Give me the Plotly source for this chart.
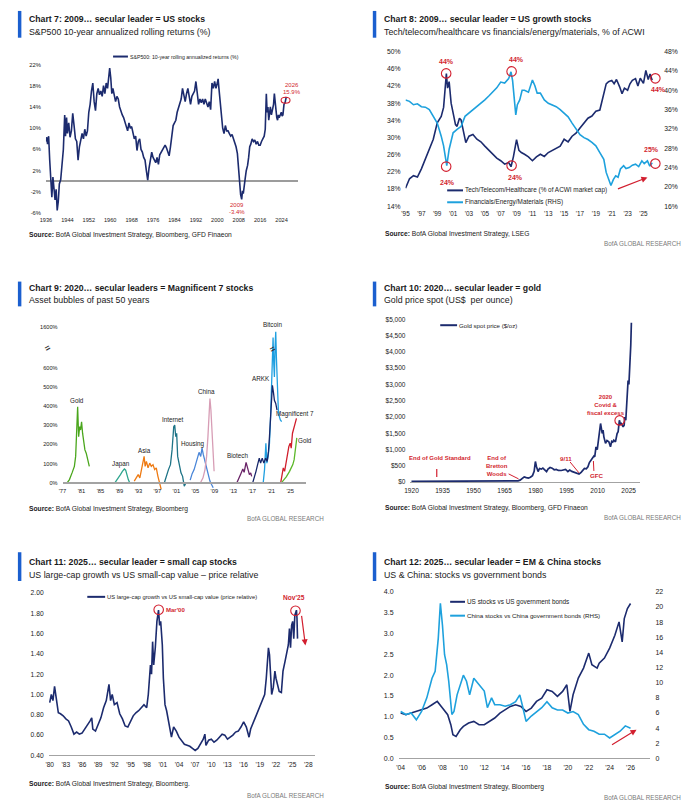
import plotly.graph_objects as go

W, H = 696, 812
NAVY = "#1c2b6e"
LIGHT = "#1ea1dd"
RED = "#d21f2f"
AXIS_GRAY = "#a3a3a3"
BAR = "#1b5fcf"
TXT = "#1a1a1a"
FONT = "Liberation Sans, Arial, sans-serif"


def fx(p):
    return p / W


def fy(p):
    return 1 - p / H


# ---------------- Chart 7: S&P500 10y rolling returns ----------------
sp_x = [1936.0, 1936.3, 1936.6, 1937.0, 1937.4, 1937.8, 1938.2, 1938.6, 1939.0, 1939.4,
        1939.8, 1940.2, 1940.6, 1941.0, 1941.5, 1942.0, 1942.5, 1943.0, 1943.3, 1943.7,
        1944.0, 1944.5, 1945.0, 1945.5, 1946.0, 1946.5, 1947.0, 1947.5, 1948.0, 1948.5,
        1949.0, 1949.5, 1950.0, 1950.5, 1951.0, 1951.5, 1952.0, 1952.5, 1953.0, 1953.5,
        1954.0, 1954.5, 1955.0, 1955.5, 1956.0, 1956.5, 1957.0, 1957.5, 1958.0, 1958.5,
        1959.0, 1959.4, 1959.8, 1960.2, 1960.6, 1961.0, 1961.5, 1962.0, 1962.5, 1963.0,
        1963.5, 1964.0, 1964.5, 1965.0, 1965.5, 1966.0, 1966.5, 1967.0, 1967.5, 1968.0,
        1968.5, 1969.0, 1969.5, 1970.0, 1970.5, 1971.0, 1971.5, 1972.0, 1972.5, 1973.0,
        1973.5, 1974.0, 1974.5, 1975.0, 1975.5, 1976.0, 1976.5, 1977.0, 1977.5, 1978.0,
        1978.5, 1979.0, 1979.5, 1980.0, 1980.5, 1981.0, 1981.5, 1982.0, 1982.5, 1983.0,
        1983.5, 1984.0, 1984.5, 1985.0, 1985.5, 1986.0, 1986.5, 1987.0, 1987.5, 1988.0,
        1988.5, 1989.0, 1989.5, 1990.0, 1990.5, 1991.0, 1991.5, 1992.0, 1992.5, 1993.0,
        1993.5, 1994.0, 1994.5, 1995.0, 1995.5, 1996.0, 1996.5, 1997.0, 1997.5, 1998.0,
        1998.5, 1999.0, 1999.5, 2000.0, 2000.3, 2000.6, 2001.0, 2001.5, 2002.0, 2002.5,
        2003.0, 2003.5, 2004.0, 2004.5, 2005.0, 2005.5, 2006.0, 2006.5, 2007.0, 2007.5,
        2007.8, 2008.1, 2008.4, 2008.7, 2009.1, 2009.4, 2009.7, 2010.0, 2010.4, 2010.8,
        2011.3, 2011.7, 2012.1, 2012.5, 2013.0, 2013.5, 2014.0, 2014.5, 2015.0, 2015.5,
        2016.0, 2016.5, 2017.0, 2017.5, 2017.9, 2018.1, 2018.3, 2018.6, 2018.9, 2019.2,
        2019.5, 2019.8, 2020.2, 2020.6, 2021.0, 2021.3, 2021.6, 2021.9, 2022.2, 2022.5,
        2022.8, 2023.1, 2023.5, 2023.9, 2024.2, 2024.5, 2024.9, 2025.3, 2025.75]
sp_v = [7.5, 8.3, 7.0, 8.5, 4.0, 0.5, -3.0, 0.8, -1.0, -3.5,
        -1.5, -5.5, -3.8, -0.5, 0.3, 2.8, 6.0, 12.5, 8.5, 12.0,
        9.0, 11.0, 8.3, 9.5, 12.8, 10.5, 8.0, 7.5, 4.0, 6.5,
        7.5, 9.0, 8.0, 9.8, 8.5, 9.5, 13.0, 14.5, 17.0, 18.5,
        15.0, 13.3, 16.5, 17.5, 16.3, 17.0, 16.0, 18.0, 16.5, 18.5,
        17.5, 20.0, 21.3, 19.5, 16.5, 17.5, 16.5, 15.0, 16.0, 15.5,
        14.0, 13.0, 12.5, 12.0, 11.0, 10.0, 9.5, 11.0, 10.0, 10.3,
        9.0, 8.0, 8.5, 5.8, 7.5, 8.0, 6.0, 5.5, 4.5, 4.0,
        2.0, 0.2, 2.5, 4.5, 5.5, 4.5, 3.8, 3.5, 4.5, 3.2,
        5.0, 5.5, 6.0, 6.5, 6.8, 6.3, 5.5, 4.8, 6.5, 9.0,
        10.5, 11.0, 11.5, 13.0, 14.0, 14.5, 15.5, 17.5, 16.0, 15.0,
        16.5, 17.5, 16.0, 14.5, 16.0, 16.5, 17.0, 18.8, 16.0, 14.5,
        15.5, 14.8, 15.5, 14.5, 15.5, 14.8, 14.0, 15.0, 13.5, 18.5,
        17.5, 18.8, 17.5, 18.5, 19.3, 17.5, 15.0, 13.0, 10.0, 9.0,
        10.5, 9.5, 9.5, 9.0, 8.5, 8.8, 8.0, 7.0, 6.5, 5.2,
        3.0, 1.0, -1.0, -2.5, -3.4, -1.8, -2.3, -0.5, 0.5, 2.0,
        3.0, 4.5, 6.5, 7.0, 8.0, 7.5, 7.8, 7.0, 7.5, 6.8,
        6.8, 7.5, 8.0, 8.5, 9.8, 12.5, 16.5, 13.0, 14.0, 11.5,
        13.5, 14.0, 12.5, 13.5, 14.5, 16.5, 14.0, 13.5, 12.0, 11.5,
        12.5, 12.0, 12.5, 13.0, 12.3, 12.5, 14.5, 14.8, 15.9]
assert len(sp_x) == len(sp_v)
c7_ticks = list(range(1936, 2025, 8))
c7_yticks = list(range(-6, 23, 4))

# ---------------- Chart 8: Tech vs Financials (% of ACWI) ----------------
tech_x = [1995.0, 1995.5, 1996.0, 1996.5, 1997.0, 1997.5, 1998.0, 1998.5, 1999.0, 1999.5,
          1999.8, 2000.0, 2000.15, 2000.3, 2000.5, 2000.75, 2001.0, 2001.3, 2001.5, 2001.8,
          2002.0, 2002.3, 2002.6, 2003.0, 2003.5, 2004.0, 2004.5, 2005.0, 2005.5, 2006.0,
          2006.5, 2007.0, 2007.5, 2008.0, 2008.3, 2008.6, 2008.8, 2009.0, 2009.3, 2009.6,
          2010.0, 2010.5, 2011.0, 2011.5, 2012.0, 2012.5, 2013.0, 2013.5, 2014.0, 2014.5,
          2015.0, 2015.5, 2016.0, 2016.5, 2017.0, 2017.5, 2018.0, 2018.5, 2019.0, 2019.5,
          2020.0, 2020.3, 2020.6, 2021.0, 2021.3, 2021.6, 2022.0, 2022.3, 2022.6, 2023.0,
          2023.3, 2023.6, 2024.0, 2024.3, 2024.6, 2025.0, 2025.3, 2025.6, 2025.83, 2026.1]
tech_v = [18.2, 20.4, 21.1, 20.8, 22.7, 25.0, 27.3, 29.6, 33.4, 34.9,
          37.0, 41.0, 44.9, 41.5, 43.0, 38.0, 35.7, 33.0, 32.6, 34.5,
          34.1, 31.0, 28.8, 30.3, 30.7, 29.6, 29.0, 28.0, 27.0, 26.1,
          25.2, 24.6, 23.8, 24.2, 23.2, 25.5, 27.3, 29.5, 27.0, 26.5,
          26.1, 25.5, 24.6, 25.5, 26.1, 25.6, 26.5, 27.0, 27.6, 28.0,
          29.6, 29.0, 30.3, 31.0, 32.2, 33.5, 34.5, 35.0, 36.1, 36.4,
          40.3, 42.5, 43.0, 43.3, 42.5, 43.5, 41.8, 40.2, 41.5, 41.0,
          42.5, 43.3, 43.7, 42.0, 43.8, 42.6, 45.6, 43.5, 44.8, 43.3]
fin_x = [1995.0, 1995.5, 1996.0, 1996.5, 1997.0, 1997.5, 1998.0, 1998.5, 1999.0, 1999.5,
         1999.8, 2000.0, 2000.2, 2000.5, 2000.8, 2001.0, 2001.5, 2002.0, 2002.5, 2003.0,
         2003.5, 2004.0, 2004.5, 2005.0, 2005.5, 2006.0, 2006.5, 2007.0, 2007.5, 2008.0,
         2008.3, 2008.5, 2008.7, 2008.9, 2009.1, 2009.4, 2009.7, 2010.0, 2010.5, 2011.0,
         2011.3, 2011.6, 2012.0, 2012.5, 2013.0, 2013.5, 2014.0, 2014.5, 2015.0, 2015.5,
         2016.0, 2016.5, 2017.0, 2017.5, 2018.0, 2018.5, 2019.0, 2019.5, 2020.0, 2020.3,
         2020.6, 2020.9, 2021.2, 2021.5, 2021.8, 2022.1, 2022.5, 2022.8, 2023.2, 2023.6,
         2024.0, 2024.4, 2024.8, 2025.1, 2025.5, 2025.8, 2026.1]
fin_v = [38.0, 37.7, 37.0, 37.2, 36.6, 36.5, 36.0, 34.6, 33.2, 30.5,
         28.5, 26.4, 24.4, 27.8, 30.0, 31.2, 31.9, 32.5, 34.6, 35.3,
         35.8, 36.6, 37.2, 38.0, 38.8, 39.7, 40.5, 41.7, 41.5, 42.4,
         43.8, 42.0, 38.7, 34.9, 37.0, 38.0, 40.0, 40.0, 39.6, 42.1,
         41.0, 39.4, 39.4, 38.0, 37.3, 37.0, 36.6, 36.0, 35.3, 34.5,
         33.2, 31.9, 30.8, 30.2, 29.8, 29.2, 28.5, 27.1, 25.7, 23.0,
         21.7, 20.3, 21.5, 22.3, 22.0, 23.7, 24.4, 23.8, 24.0, 24.5,
         24.7, 24.2, 25.4, 24.8, 25.4, 24.3, 25.0]
assert len(tech_x) == len(tech_v) and len(fin_x) == len(fin_v)
c8_ticks = list(range(1995, 2026, 2))
c8_lticks = list(range(14, 51, 4))
c8_rticks = list(range(16, 49, 4))

# ---------------- Chart 9: asset bubbles ----------------
gold1_x = [1977.97, 1978.46, 1979.01, 1979.5, 1979.77, 1979.98, 1980.19, 1980.4, 1980.61, 1980.81,
           1981.02, 1981.23, 1981.44, 1981.72, 1982.0, 1982.34, 1982.65]
gold1_v = [0, 17, 52, 86, 138, 293, 397, 241, 293, 276, 319, 259, 207, 172, 155, 121, 86]
japan_x = [1988.1, 1988.65, 1989.21, 1989.62, 1990.04, 1990.31, 1990.59, 1990.87, 1991.15]
japan_v = [3, 21, 43, 60, 72, 66, 34, 17, 0]
asia_x = [1992.12, 1992.6, 1992.95, 1993.3, 1993.64, 1993.99, 1994.2, 1994.41, 1994.68, 1995.03,
          1995.38, 1995.72, 1996.07, 1996.42, 1996.76, 1997.11, 1997.46, 1997.8]
asia_v = [9, 26, 43, 26, 69, 112, 138, 86, 112, 78, 103, 86, 95, 69, 78, 34, 0, -34]
internet_x = [1998.5, 1998.91, 1999.33, 1999.75, 2000.09, 2000.44, 2000.65, 2000.86, 2001.06, 2001.27,
              2001.62, 2001.97, 2002.31, 2002.66, 2003.01]
internet_v = [3, 43, 69, 95, 172, 293, 302, 241, 259, 138, 86, 52, 34, -17, 0]
housing_x = [2003.91, 2004.32, 2004.74, 2005.09, 2005.43, 2005.78, 2006.13, 2006.4, 2006.68, 2007.03,
             2007.37, 2007.72, 2008.07, 2008.41, 2008.76]
housing_v = [14, 48, 69, 103, 138, 159, 138, 181, 147, 112, 69, 34, 9, -9, -26]
china_x = [2006.13, 2006.61, 2007.03, 2007.37, 2007.65, 2007.86, 2008.07, 2008.28, 2008.48, 2008.76, 2008.95]
china_v = [3, 26, 69, 138, 241, 345, 440, 379, 293, 172, 60]
biotech_x = [2013.75, 2014.17, 2014.59, 2015.0, 2015.28, 2015.69, 2016.04, 2016.39, 2016.66, 2016.87]
biotech_v = [0, 21, 48, 72, 55, 107, 78, 43, 52, 34]
arkk_x = [2017.08, 2017.43, 2017.78, 2018.12, 2018.47, 2018.75, 2019.09, 2019.44, 2019.79, 2020.13,
          2020.41, 2020.62, 2020.83, 2021.04, 2021.24, 2021.45, 2021.66, 2021.94, 2022.21]
arkk_v = [0, 26, 60, 95, 129, 103, 129, 103, 129, 112, 164, 241, 345, 448, 509, 474, 431, 414, 379]
btc_x = [2019.3, 2019.58, 2019.86, 2020.07, 2020.34, 2020.62, 2020.83, 2020.97, 2021.1, 2021.24,
         2021.38, 2021.52, 2021.66, 2021.8, 2021.94, 2022.08, 2022.28, 2022.49, 2022.7, 2022.91, 2023.19]
btc_v = [0, 69, 207, 103, 138, 207, 328, 448, 586, 777, 1281, 621, 552, 980, 1450, 679, 483, 379, 345, 328, 319]
mag7_x = [2022.98, 2023.26, 2023.53, 2023.81, 2024.16, 2024.43, 2024.71, 2024.99, 2025.2, 2025.47,
          2025.75, 2026.03, 2026.31]
mag7_v = [0, 34, 78, 60, 121, 164, 190, 207, 181, 259, 293, 310, 336]
gold2_x = [2023.12, 2023.46, 2023.81, 2024.16, 2024.5, 2024.85, 2025.2, 2025.54, 2025.82, 2026.1, 2026.38]
gold2_v = [0, 14, 21, 31, 43, 60, 78, 95, 121, 170, 235]
c9_ticks = list(range(1977, 2026, 4))
c9_yticks = [0, 100, 200, 300, 400, 500, 600, 1600]

# ---------------- Chart 10: gold price ----------------
gp_x = [1920, 1933.5, 1934.2, 1967.5, 1968.5, 1969.5, 1970.5, 1971.5, 1972.5, 1973.5,
        1974.5, 1975.5, 1976.5, 1977.5, 1978.5, 1979.3, 1979.9, 1980.4, 1981.2, 1981.9,
        1982.8, 1983.5, 1984.5, 1985.3, 1986.0, 1987.0, 1988.0, 1989.0, 1990.0, 1991.0,
        1992.4, 1993.5, 1994.5, 1995.6, 1996.5, 1997.5, 1998.8, 1999.6, 2001.0, 2002.0,
        2003.0, 2003.6, 2004.5, 2005.3, 2006.0, 2006.8, 2007.6, 2008.2, 2008.6, 2009.2,
        2009.8, 2010.3, 2010.9, 2011.4, 2011.8, 2012.2, 2012.6, 2013.0, 2013.8, 2014.5,
        2015.4, 2016.2, 2016.8, 2017.3, 2017.8, 2018.6, 2019.4, 2019.9, 2020.5, 2021.0,
        2021.5, 2022.3, 2022.8, 2023.1, 2023.6, 2023.9, 2024.3, 2024.7, 2025.1, 2025.5,
        2025.8, 2026.0, 2026.3]
gp_v = [20.67, 20.67, 35, 35, 39, 42, 36, 41, 60, 100,
        160, 140, 125, 150, 200, 330, 634, 480, 326, 420,
        400, 430, 350, 320, 400, 450, 430, 380, 390, 360,
        357, 380, 390, 326, 370, 330, 295, 280, 246, 300,
        357, 420, 410, 470, 600, 680, 738, 800, 780, 1085,
        1000, 1300, 1494, 1800, 1650, 1494, 1600, 1390, 1189, 1280,
        1238, 1085, 1250, 1230, 1290, 1238, 1494, 1550, 1900, 1780,
        1800, 1695, 1750, 2000, 1900, 2205, 2400, 3119, 3000, 3424,
        3900, 4200, 4896]
assert len(gp_x) == len(gp_v)
c10_ticks = list(range(1920, 2026, 15))
c10_yticks = list(range(0, 5001, 500))

# ---------------- Chart 11: large-cap growth vs small-cap value ----------------
lc_x = [1980.0, 1980.3, 1980.6, 1980.9, 1981.2, 1981.6, 1982.0, 1982.5, 1983.0, 1983.5,
        1984.0, 1984.5, 1985.0, 1985.5, 1986.0, 1986.5, 1987.0, 1987.5, 1987.8, 1988.0,
        1988.5, 1989.0, 1989.5, 1990.0, 1990.5, 1991.0, 1991.3, 1991.6, 1992.0, 1992.5,
        1993.0, 1993.5, 1994.0, 1994.5, 1995.0, 1995.5, 1996.0, 1996.5, 1997.0, 1997.5,
        1998.0, 1998.3, 1998.7, 1998.9, 1999.1, 1999.3, 1999.6, 1999.9, 2000.2, 2000.4,
        2000.6, 2000.9, 2001.1, 2001.4, 2001.7, 2002.0, 2002.3, 2002.6, 2003.0, 2003.5,
        2004.0, 2004.5, 2005.0, 2005.5, 2006.0, 2006.5, 2007.0, 2007.5, 2008.0, 2008.5,
        2008.8, 2009.0, 2009.5, 2010.0, 2010.5, 2011.0, 2011.5, 2012.0, 2012.5, 2013.0,
        2013.5, 2014.0, 2014.5, 2015.0, 2015.5, 2016.0, 2016.5, 2017.0, 2017.3, 2017.7,
        2018.0, 2018.5, 2019.0, 2019.5, 2019.9, 2020.2, 2020.4, 2020.6, 2020.8, 2021.0,
        2021.2, 2021.5, 2021.8, 2022.0, 2022.3, 2022.6, 2023.0, 2023.3, 2023.7, 2024.0,
        2024.3, 2024.5, 2024.7, 2024.9, 2025.1, 2025.3, 2025.5, 2025.8, 2025.9, 2026.0]
lc_v = [0.92, 1.00, 0.94, 1.08, 0.97, 0.82, 0.81, 0.79, 0.76, 0.74,
        0.68, 0.61, 0.63, 0.61, 0.62, 0.66, 0.69, 0.74, 0.77, 0.66,
        0.64, 0.71, 0.77, 0.87, 0.94, 1.10, 0.94, 1.00, 0.90, 0.92,
        0.81, 0.76, 0.69, 0.68, 0.73, 0.79, 0.82, 0.84, 0.87, 0.90,
        0.87, 1.00, 1.29, 1.20, 1.52, 1.29, 1.46, 1.72, 1.83, 1.68,
        1.72, 1.49, 1.16, 0.90, 0.84, 0.74, 0.64, 0.58, 0.68, 0.64,
        0.58, 0.55, 0.51, 0.50, 0.49, 0.47, 0.45, 0.47, 0.51, 0.56,
        0.61, 0.50, 0.55, 0.56, 0.53, 0.55, 0.58, 0.61, 0.60, 0.56,
        0.58, 0.60, 0.63, 0.64, 0.68, 0.73, 0.68, 0.58, 0.66, 0.71,
        0.76, 0.81, 0.87, 0.94, 1.00, 1.16, 1.36, 1.46, 1.39, 1.23,
        1.00, 1.07, 1.23, 1.16, 1.10, 1.03, 1.02, 1.23, 1.33, 1.42,
        1.49, 1.65, 1.46, 1.68, 1.72, 1.55, 1.78, 1.83, 1.75, 1.55]
assert len(lc_x) == len(lc_v)
c11_ticks = list(range(1980, 2029, 3))
c11_yticks = [0.4, 0.6, 0.8, 1.0, 1.2, 1.4, 1.6, 1.8, 2.0]

# ---------------- Chart 12: stocks vs government bonds ----------------
us_x = [2004.0, 2004.5, 2005.0, 2005.5, 2006.0, 2006.5, 2007.0, 2007.5, 2008.0, 2008.5,
        2008.8, 2009.0, 2009.3, 2009.7, 2010.0, 2010.5, 2011.0, 2011.5, 2012.0, 2012.5,
        2013.0, 2013.5, 2014.0, 2014.5, 2015.0, 2015.5, 2016.0, 2016.5, 2017.0, 2017.5,
        2018.0, 2018.5, 2019.0, 2019.5, 2019.9, 2020.2, 2020.5, 2021.0, 2021.5, 2022.0,
        2022.3, 2022.8, 2023.0, 2023.5, 2024.0, 2024.5, 2024.9, 2025.2, 2025.4, 2025.7, 2026.0]
us_v = [1.09, 1.05, 1.09, 1.13, 1.17, 1.21, 1.29, 1.37, 1.21, 1.05,
        0.81, 0.57, 0.53, 0.69, 0.77, 0.85, 0.89, 0.81, 0.81, 0.89,
        0.97, 1.09, 1.17, 1.25, 1.29, 1.25, 1.13, 1.21, 1.37, 1.45,
        1.65, 1.61, 1.49, 1.61, 1.77, 1.13, 1.53, 1.93, 2.17, 2.53,
        2.25, 2.17, 2.29, 2.41, 2.65, 2.96, 3.28, 2.80, 3.36, 3.60, 3.72]
cn_x = [2004.0, 2004.5, 2005.0, 2005.5, 2006.0, 2006.5, 2007.0, 2007.3, 2007.6, 2007.8,
        2008.0, 2008.2, 2008.4, 2008.6, 2008.9, 2009.1, 2009.4, 2009.7, 2010.0, 2010.3,
        2010.6, 2011.0, 2011.5, 2012.0, 2012.3, 2012.7, 2013.0, 2013.5, 2014.0, 2014.5,
        2015.0, 2015.4, 2015.7, 2016.0, 2016.5, 2017.0, 2017.5, 2018.0, 2018.5, 2019.0,
        2019.5, 2020.0, 2020.5, 2021.0, 2021.5, 2022.0, 2022.5, 2023.0, 2023.5, 2024.0,
        2024.5, 2025.0, 2025.5, 2026.0]
cn_v = [6.2, 5.8, 6.0, 5.1, 6.2, 8.0, 10.6, 11.5, 15.9, 20.5,
        17.6, 13.7, 12.4, 10.2, 5.8, 6.2, 8.4, 9.7, 11.0, 10.2,
        8.4, 10.6, 9.7, 8.9, 6.7, 8.0, 7.1, 7.1, 6.9, 7.1,
        7.5, 8.4, 6.7, 4.9, 5.6, 6.2, 6.7, 7.5, 6.7, 6.4,
        6.4, 6.0, 6.2, 5.8, 4.5, 3.8, 3.6, 3.2, 3.2, 2.7,
        3.2, 3.6, 4.3, 4.0]
assert len(us_x) == len(us_v) and len(cn_x) == len(cn_v)
c12_ticks = list(range(2004, 2027, 2))
c12_lticks = [0, 0.5, 1.0, 1.5, 2.0, 2.5, 3.0, 3.5, 4.0]
c12_rticks = list(range(0, 23, 2))

# y-axis break for chart 9 (values above 650% compressed)
BRK = 650
BRK_K = 164 / 950


def brk(v):
    return v if v <= BRK else BRK + (v - BRK) * BRK_K


fig = go.Figure()


def line(x, y, xa, ya, color, width=1.5):
    fig.add_trace(go.Scatter(x=x, y=y, xaxis=xa, yaxis=ya, mode="lines",
                             line=dict(color=color, width=width), hoverinfo="skip",
                             showlegend=False))


line(sp_x, sp_v, "x", "y", NAVY, 1.6)
line(fin_x, fin_v, "x2", "y3", LIGHT, 1.6)
line(tech_x, tech_v, "x2", "y2", NAVY, 1.6)

bubbles = [
    (gold1_x, gold1_v, "#4aa61c"), (japan_x, japan_v, "#2ea58e"), (asia_x, asia_v, "#ee7a12"),
    (internet_x, internet_v, "#1e7487"), (housing_x, housing_v, "#4a86d8"),
    (china_x, china_v, "#d79db5"), (biotech_x, biotech_v, "#6a2468"),
    (btc_x, btc_v, "#1e9fe0"), (arkk_x, arkk_v, "#17276b"),
    (mag7_x, mag7_v, "#d01e2c"), (gold2_x, gold2_v, "#5cb82a"),
]
for bx, bv, col in bubbles:
    line(bx, [brk(v) for v in bv], "x4", "y4", col, 1.3)

line(gp_x, gp_v, "x5", "y5", NAVY, 1.7)
line(lc_x, lc_v, "x6", "y6", NAVY, 1.6)
line(cn_x, cn_v, "x7", "y8", LIGHT, 1.6)
line(us_x, us_v, "x7", "y7", NAVY, 1.6)


def tf(size):
    return dict(family=FONT, size=size, color=TXT)


def xaxis(l, r, rng, tv, tt, anchor, size, **kw):
    d = dict(domain=[fx(l), fx(r)], range=rng, tickvals=tv, ticktext=tt, anchor=anchor,
             showgrid=False, zeroline=False, showline=False, ticks="", tickfont=tf(size),
             fixedrange=True, ticklabelstandoff=2)
    d.update(kw)
    return d


def yaxis(b, t, rng, tv, tt, anchor, size, **kw):
    d = dict(domain=[fy(b), fy(t)], range=rng, tickvals=tv, ticktext=tt, anchor=anchor,
             showgrid=False, zeroline=False, showline=False, ticks="", tickfont=tf(size),
             fixedrange=True, ticklabelstandoff=4)
    d.update(kw)
    return d


yr2 = lambda v: "'" + str(v)[2:]

fig.update_layout(
    width=W, height=H, margin=dict(l=0, r=0, t=0, b=0),
    paper_bgcolor="white", plot_bgcolor="rgba(0,0,0,0)", showlegend=False,
    font=dict(family=FONT, color=TXT),
    # chart 7
    xaxis=xaxis(40.3, 295, [1936, 2030.3], c7_ticks, [str(v) for v in c7_ticks], "y", 5.6),
    yaxis=yaxis(211, 61, [-6, 22], c7_yticks, [f"{v}%" for v in c7_yticks], "x", 5.8,
                zeroline=True, zerolinecolor="#9c9c9c", zerolinewidth=1.6),
    # chart 8
    xaxis2=xaxis(403, 659, [1995, 2027], c8_ticks, [yr2(v) for v in c8_ticks], "y2", 6.4),
    yaxis2=yaxis(204, 48, [14, 50], c8_lticks, [f"{v}%" for v in c8_lticks], "x2", 6.8),
    yaxis3=yaxis(204, 48, [16, 48], c8_rticks, [f"{v}%" for v in c8_rticks], "x2", 6.8,
                 overlaying="y2", side="right"),
    # chart 9
    xaxis4=xaxis(57, 303, [1977, 2028.4], c9_ticks, [yr2(v) for v in c9_ticks], "free", 5.8,
                 position=fy(483), showline=True, linecolor=AXIS_GRAY, linewidth=1.5),
    yaxis4=yaxis(492.67, 322.56, [-50, 830], [brk(v) for v in c9_yticks],
                 [f"{v}%" for v in c9_yticks], "x4", 5.6),
    # chart 10
    xaxis5=xaxis(408, 640, [1919.52, 2030.7], c10_ticks, [str(v) for v in c10_ticks], "y5", 6.6,
                 showline=True, linecolor=AXIS_GRAY, linewidth=1.3),
    yaxis5=yaxis(482.3, 318, [0, 5000], c10_yticks, [f"${v:,}" for v in c10_yticks], "x5", 6.5),
    # chart 11
    xaxis6=xaxis(43, 312, [1979.8, 2029.3], c11_ticks, [yr2(v) for v in c11_ticks], "y6", 6.6,
                 showline=True, linecolor=AXIS_GRAY, linewidth=1.3),
    yaxis6=yaxis(758, 594, [0.4, 2.0], c11_yticks, [f"{v:.2f}" for v in c11_yticks], "x6", 6.7),
    # chart 12
    xaxis7=xaxis(396, 650, [2003.8, 2027.9], c12_ticks, [yr2(v) for v in c12_ticks], "y7", 6.8,
                 showline=True, linecolor=AXIS_GRAY, linewidth=1.3),
    yaxis7=yaxis(761, 593, [0, 4], c12_lticks, [f"{v:.1f}" for v in c12_lticks], "x7", 7),
    yaxis8=yaxis(761, 593, [0, 22], c12_rticks, [str(v) for v in c12_rticks], "x7", 7,
                 overlaying="y7", side="right"),
)

ann = []
shapes = []


def text(x, y, s, size=7, color=TXT, xanchor="left", yanchor="middle", align="left"):
    ann.append(dict(xref="paper", yref="paper", x=fx(x), y=fy(y), text=s, showarrow=False,
                    font=dict(family=FONT, size=size, color=color), xanchor=xanchor,
                    yanchor=yanchor, align=align, borderpad=0))


def seg(x0, y0, x1, y1, color, width=1.5):
    shapes.append(dict(type="line", xref="paper", yref="paper", x0=fx(x0), y0=fy(y0),
                       x1=fx(x1), y1=fy(y1), line=dict(color=color, width=width)))


def circ(cx, cy, rx, ry=None):
    ry = rx if ry is None else ry
    shapes.append(dict(type="circle", xref="paper", yref="paper", x0=fx(cx - rx), x1=fx(cx + rx),
                       y0=fy(cy + ry), y1=fy(cy - ry), line=dict(color=RED, width=1.1)))


def arrow(tx, ty, hx, hy):
    ann.append(dict(xref="paper", yref="paper", x=fx(hx), y=fy(hy), ax=tx - hx, ay=ty - hy,
                    axref="pixel", ayref="pixel", text="", showarrow=True, arrowhead=2,
                    arrowsize=1, arrowwidth=1.2, arrowcolor=RED))


def header(xbar, xt, ybar0, ybar1, ytitle, ysub, title, sub):
    shapes.append(dict(type="rect", xref="paper", yref="paper", x0=fx(xbar), x1=fx(xbar + 3.5),
                       y0=fy(ybar1), y1=fy(ybar0), fillcolor=BAR, line=dict(width=0)))
    text(xt, ytitle, "<b>" + title + "</b>", 8.7)
    text(xt, ysub, sub, 8.8)


def source(x, y, s):
    text(x, y, "<b>Source:</b> " + s, 6.7)


def bofa(xr, y):
    text(xr, y, "BofA GLOBAL RESEARCH", 6.3, "#7a7a7a", xanchor="right")


# headers
header(12, 22, 7, 34, 15, 28, "Chart 7: 2009… secular leader = US stocks",
       "S&P500 10-year annualized rolling returns (%)")
header(370, 380, 7, 34, 15, 28, "Chart 8: 2009… secular leader = US growth stocks",
       "Tech/telecom/healthcare vs financials/energy/materials, % of ACWI")
header(12, 22, 280, 305, 286, 299, "Chart 9: 2020… secular leaders = Magnificent 7 stocks",
       "Asset bubbles of past 50 years")
header(370, 380, 280, 305, 286, 299, "Chart 10: 2020… secular leader = gold",
       "Gold price spot (US$  per ounce)")
header(12, 22, 553, 582, 563, 576, "Chart 11: 2025… secular leader = small cap stocks",
       "US large-cap growth vs US small-cap value – price relative")
header(370, 380, 553, 582, 563, 576, "Chart 12: 2025… secular leader = EM & China stocks",
       "US & China: stocks vs government bonds")

source(22, 233, "BofA Global Investment Strategy, Bloomberg, GFD Finaeon")
source(381, 232, "BofA Global Investment Strategy, LSEG")
source(22, 509, "BofA Global Investment Strategy, Bloomberg")
source(381, 508, "BofA Global Investment Strategy, Bloomberg, GFD Finaeon")
source(22, 787, "BofA Global Investment Strategy, Bloomberg.")
source(381, 790, "BofA Global Investment Strategy, Bloomberg")
bofa(682, 242)
bofa(322, 519)
bofa(682, 518)
bofa(322, 798)
bofa(682, 800)

# legends (swatch + label)
seg(108, 53, 123, 53, NAVY, 2)
text(124, 53, "S&P500: 10-year rolling annualized returns (%)", 5.2)
seg(445, 188, 461, 188, NAVY, 2)
text(462, 188, "Tech/Telecom/Healthcare (% of ACWI market cap)", 6.4)
seg(445, 200, 461, 200, LIGHT, 2)
text(462, 200, "Financials/Energy/Materials (RHS)", 6.4)
seg(438, 324, 455, 324, NAVY, 2)
text(456, 324, "Gold spot price ($/oz)", 6.1)
seg(82, 598, 100, 598, NAVY, 2)
text(101, 598, "US large-cap growth vs US small-cap value (price relative)", 5.8)
seg(448, 603, 463, 603, NAVY, 2)
text(464, 603, "US stocks vs US government bonds", 6.4)
seg(448, 617, 463, 617, LIGHT, 2)
text(464, 617, "China stocks vs China government bonds (RHS)", 6.2)

# chart 7 callouts
circ(282, 97, 4.5, 3)
text(288, 82, "2026", 6, RED, xanchor="center")
text(288, 89, "15.9%", 6, RED, xanchor="center")
text(233, 203, "2009", 6, RED, xanchor="center")
text(233, 210, "-3.4%", 6, RED, xanchor="center")

# chart 8 callouts
for cx, cy in [(444, 70), (444, 164), (510, 68), (510, 163), (655, 75), (655, 161)]:
    circ(cx, cy, 4.8)
for cx, cy, s in [(444, 58, "44%"), (445, 180, "24%"), (515, 56, "44%"), (514, 175, "24%"),
                  (651, 147, "25%"), (658, 86, "44%")]:
    text(cx, cy, "<b>" + s + "</b>", 7, RED, xanchor="center")
arrow(616, 187, 647, 175)

# chart 9 labels
for cx, cy, s in [(72, 400, "Gold"), (116, 464, "Japan"), (140, 450, "Asia"),
                  (168, 419, "Internet"), (189, 444, "Housing"), (202, 391, "China"),
                  (234, 455, "Biotech"), (257, 378, "ARKK"), (269, 323, "Bitcoin"),
                  (292, 414, "Magnificent 7"), (302, 440, "Gold")]:
    text(cx, cy, s, 6.3, xanchor="center")
for cx, cy in [(42, 347), (269, 348)]:
    text(cx, cy, "<b>=</b>", 9, "#333333", xanchor="center")
    ann[-1]["textangle"] = -30

# chart 10 callouts
text(438, 458, "<b>End of Gold Standard</b>", 6.0, RED, xanchor="center")
seg(434.5, 469, 434.5, 477, RED, 1.2)
text(495, 466, "<b>End of<br>Bretton<br>Woods</b>", 6.0, RED, xanchor="center", align="center")
seg(507, 474, 517, 479, RED, 1.0)
text(565, 458, "<b>9/11</b>", 6.2, RED, xanchor="center")
seg(569, 462, 578, 473, RED, 1.0)
text(596, 476, "<b>GFC</b>", 6.2, RED, xanchor="center")
seg(593, 471, 592.5, 461, RED, 1.0)
text(605, 404, "<b>2020<br>Covid &<br>fiscal excess</b>", 6.0, RED, xanchor="center", align="center")
circ(619, 420, 4.8)

# chart 11 callouts
circ(154, 611, 4.8)
text(160, 611, "<b>Mar'00</b>", 6.0, RED)
circ(292, 612, 4.8)
text(290, 599, "<b>Nov'25</b>", 6.6, RED, xanchor="center")
arrow(298, 616, 302, 647)

# chart 12 callout
arrow(610, 748, 636, 732)

fig.update_layout(annotations=ann, shapes=shapes)
fig.write_html("out.html", config={"displayModeBar": False},
               post_script="document.body.style.margin='0px';")
